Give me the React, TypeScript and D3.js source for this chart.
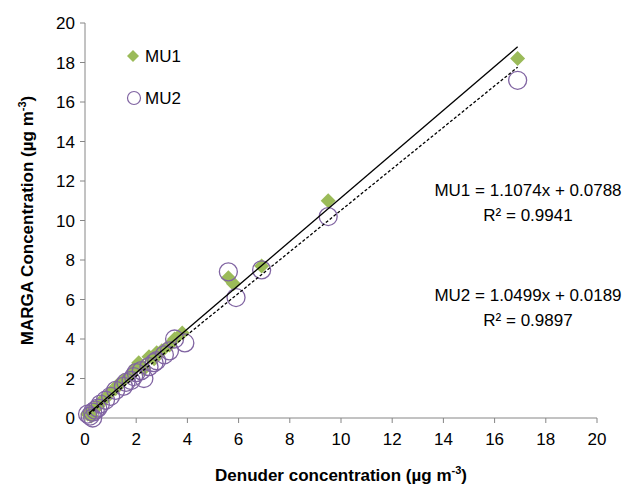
import React from "react";
import * as d3 from "d3";

const mu1: [number, number][] = [[16.9,18.2],[9.5,11.0],[6.9,7.7],[5.6,7.1],[5.8,6.8],[3.8,4.3],[3.5,4.0],[3.3,3.7],[2.8,3.3],[2.5,3.1],[2.7,3.0],[2.1,2.8],[2.0,2.6],[2.3,2.5],[1.8,2.2],[1.5,1.9],[1.3,1.7],[1.0,1.3],[0.8,1.0],[0.6,0.8],[0.5,0.6],[0.3,0.4],[0.2,0.3],[0.1,0.2],[0.4,0.5],[0.25,0.1],[1.2,1.5],[3.0,3.4]];
const mu2: [number, number][] = [[16.9,17.1],[9.5,10.2],[6.9,7.5],[5.6,7.4],[5.9,6.1],[3.9,3.8],[3.5,4.0],[3.3,3.4],[3.1,3.2],[2.7,2.8],[2.5,2.6],[2.3,2.0],[2.0,2.3],[1.8,1.9],[1.9,2.1],[1.5,1.6],[1.2,1.4],[1.0,1.1],[0.8,0.9],[0.6,0.7],[0.5,0.5],[0.4,0.4],[0.3,0.3],[0.2,0.1],[0.1,0.2],[0.3,0.0],[2.2,2.4],[2.8,2.9],[1.6,1.8]];
const fit1 = { m: 1.1074, b: 0.0788 };
const fit2 = { m: 1.0499, b: 0.0189 };
const fitRange = [0.15, 16.9];
const ticks = d3.range(0, 21, 2);

export default function App() {
  const x = d3.scaleLinear().domain([0, 20]).range([85, 597]);
  const y = d3.scaleLinear().domain([0, 20]).range([418, 23]);
  const font = "Liberation Sans, Arial, sans-serif";
  const axisCol = "#868686";
  const diamond = (cx: number, cy: number, r: number) => `M${cx},${cy - r}L${cx + r},${cy}L${cx},${cy + r}L${cx - r},${cy}Z`;
  return (
    <svg width={640} height={489} style={{ position: "absolute", left: 0, top: 0 }} fontFamily={font}>
      <rect width={640} height={489} fill="#fff" />
      <line x1={x(0)} x2={x(0)} y1={y(0)} y2={y(20)} stroke={axisCol} />
      <line x1={x(0)} x2={x(20)} y1={y(0)} y2={y(0)} stroke={axisCol} />
      {ticks.map(t => (
        <g key={t}>
          <line x1={x(0) - 5} x2={x(0)} y1={y(t)} y2={y(t)} stroke={axisCol} />
          <text x={x(0) - 10} y={y(t) + 6} textAnchor="end" fontSize={17} fill="#000">{t}</text>
          <line x1={x(t)} x2={x(t)} y1={y(0)} y2={y(0) + 5} stroke={axisCol} />
          <text x={x(t)} y={y(0) + 27} textAnchor="middle" fontSize={17} fill="#000">{t}</text>
        </g>
      ))}
      {mu1.map((d, i) => <path key={i} d={diamond(x(d[0]), y(d[1]), 7.5)} fill="#9bbb59" />)}
      {mu2.map((d, i) => <circle key={i} cx={x(d[0])} cy={y(d[1])} r={9} fill="none" stroke="#8064a2" strokeWidth={1.3} />)}
      <line x1={x(fitRange[0])} y1={y(fit1.m * fitRange[0] + fit1.b)} x2={x(fitRange[1])} y2={y(fit1.m * fitRange[1] + fit1.b)} stroke="#000" strokeWidth={1.3} />
      <line x1={x(fitRange[0])} y1={y(fit2.m * fitRange[0] + fit2.b)} x2={x(fitRange[1])} y2={y(fit2.m * fitRange[1] + fit2.b)} stroke="#000" strokeWidth={1.3} strokeDasharray="3,2" />
      <path d={diamond(133, 56, 6)} fill="#9bbb59" />
      <text x={145} y={62} fontSize={17}>MU1</text>
      <circle cx={134} cy={98} r={6.5} fill="none" stroke="#8064a2" strokeWidth={1.2} />
      <text x={145} y={104} fontSize={17}>MU2</text>
      <text x={528} y={196} textAnchor="middle" fontSize={17}>MU1 = 1.1074x + 0.0788</text>
      <text x={528} y={221} textAnchor="middle" fontSize={17}>R² = 0.9941</text>
      <text x={528} y={301} textAnchor="middle" fontSize={17}>MU2 = 1.0499x + 0.0189</text>
      <text x={528} y={326} textAnchor="middle" fontSize={17}>R² = 0.9897</text>
      <text x={341} y={481} textAnchor="middle" fontSize={17} fontWeight="bold">Denuder concentration (µg m<tspan dy={-7} fontSize={11}>-3</tspan><tspan dy={7}>)</tspan></text>
      <text transform={`translate(33,${y(10)}) rotate(-90)`} textAnchor="middle" fontSize={17} fontWeight="bold">MARGA Concentration (µg m<tspan dy={-7} fontSize={11}>-3</tspan><tspan dy={7}>)</tspan></text>
    </svg>
  );
}
